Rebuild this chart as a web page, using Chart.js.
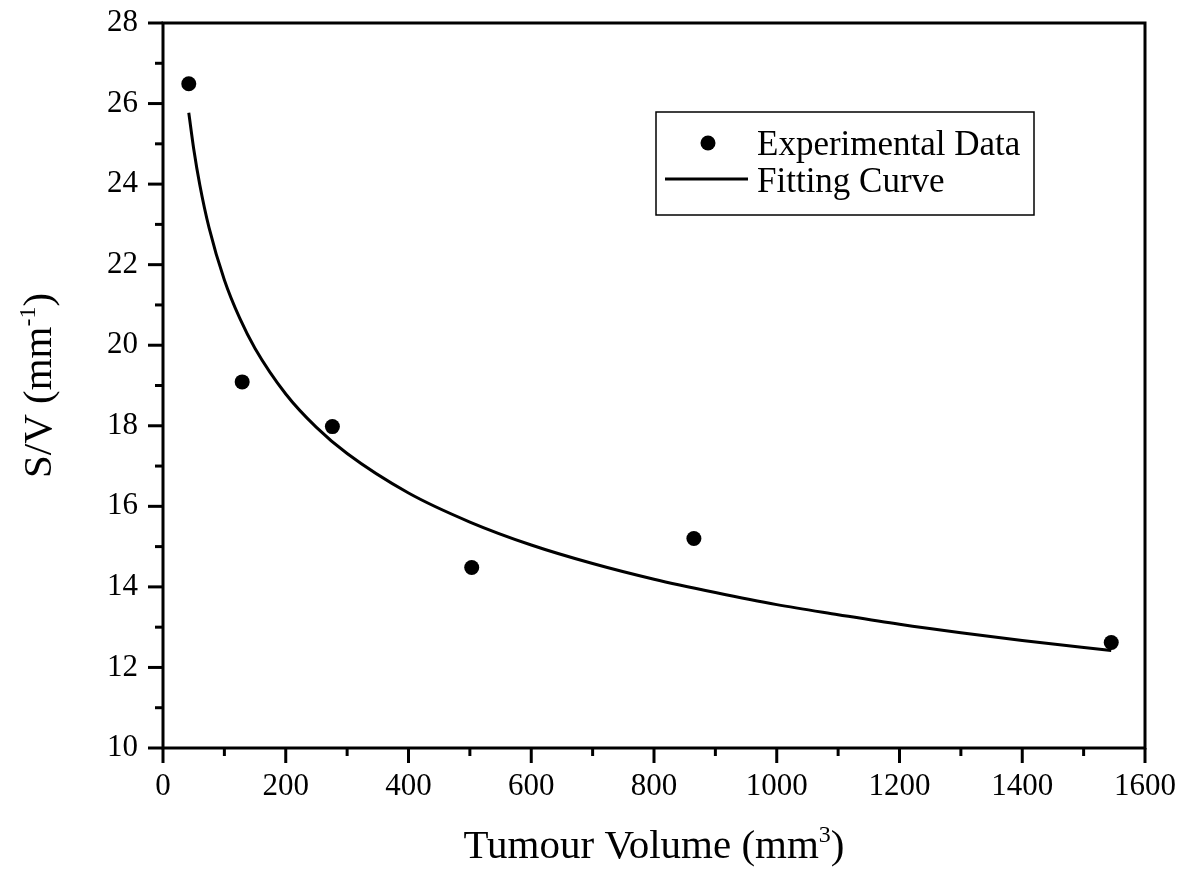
<!DOCTYPE html>
<html>
<head>
<meta charset="utf-8">
<script src="https://cdn.jsdelivr.net/npm/chart.js@4/dist/chart.umd.min.js"></script>
<style>
  html, body { margin: 0; padding: 0; background: #fff; }
  #wrap { width: 1195px; height: 878px; }
</style>
</head>
<body>
<div id="wrap"><canvas id="svChart"></canvas></div>
<script>
// experimental points
const expVolume = [42, 129, 276, 503, 865, 1545];
const expSV = [26.49, 19.09, 17.98, 14.48, 15.20, 12.62];

// fitting curve, values
const fitVolume = [42, 50, 60, 75, 100, 125, 150, 200, 250, 300, 400, 500, 600, 700, 800, 900, 1000, 1100, 1200, 1300, 1400, 1545];
const fitSV = [25.77, 24.88, 23.98, 22.92, 21.62, 20.67, 19.92, 18.79, 17.96, 17.31, 16.33, 15.61, 15.04, 14.58, 14.19, 13.86, 13.56, 13.31, 13.07, 12.86, 12.67, 12.42];

const xTickLabels = [0, 200, 400, 600, 800, 1000, 1200, 1400, 1600];
const yTickLabels = [10, 12, 14, 16, 18, 20, 22, 24, 26, 28];

const legendLabels = ['Experimental Data', 'Fitting Curve'];

const SERIF = '"Liberation Serif", "Times New Roman", serif';

function drawSupText(ctx, x, y, parts) {
  // parts: [text, size, dy]
  let cx = x;
  parts.forEach(p => {
    ctx.font = p[1] + 'px ' + SERIF;
    ctx.fillText(p[0], cx, y + p[2]);
    cx += ctx.measureText(p[0]).width;
  });
}

function partsWidth(ctx, parts) {
  let w = 0;
  parts.forEach(p => {
    ctx.font = p[1] + 'px ' + SERIF;
    w += ctx.measureText(p[0]).width;
  });
  return w;
}

const framePlugin = {
  id: 'framePlugin',
  afterDraw(chart) {
    const ctx = chart.ctx;
    const a = chart.chartArea;
    const xs = chart.scales.x;
    const ys = chart.scales.y;
    ctx.save();
    ctx.strokeStyle = '#000';
    ctx.fillStyle = '#000';

    // frame
    ctx.lineWidth = 3;
    ctx.strokeRect(a.left, a.top, a.right - a.left, a.bottom - a.top);

    // outward ticks, major + minor
    ys.ticks.forEach(t => {
      const py = ys.getPixelForValue(t.value);
      const len = yTickLabels.includes(t.value) ? 15 : 8;
      ctx.beginPath();
      ctx.moveTo(a.left - len, py);
      ctx.lineTo(a.left, py);
      ctx.stroke();
    });
    xs.ticks.forEach(t => {
      const px = xs.getPixelForValue(t.value);
      const len = xTickLabels.includes(t.value) ? 15 : 8;
      ctx.beginPath();
      ctx.moveTo(px, a.bottom);
      ctx.lineTo(px, a.bottom + len);
      ctx.stroke();
    });

    // axis titles
    ctx.textBaseline = 'alphabetic';
    ctx.textAlign = 'left';
    const xParts = [['Tumour Volume (mm', 41, 0], ['3', 24, -16], [')', 41, 0]];
    const xw = partsWidth(ctx, xParts);
    drawSupText(ctx, (a.left + a.right) / 2 - xw / 2, 858, xParts);

    const yParts = [['S/V (mm', 41, 0], ['-1', 24, -16], [')', 41, 0]];
    const yw = partsWidth(ctx, yParts);
    ctx.save();
    ctx.translate(51, (a.top + a.bottom) / 2);
    ctx.rotate(-Math.PI / 2);
    drawSupText(ctx, -yw / 2, 0, yParts);
    ctx.restore();

    // legend box
    ctx.lineWidth = 1.5;
    ctx.strokeRect(656, 112, 378, 103);
    ctx.beginPath();
    ctx.arc(708, 143, 7.5, 0, Math.PI * 2);
    ctx.fill();
    ctx.lineWidth = 3;
    ctx.beginPath();
    ctx.moveTo(665, 179);
    ctx.lineTo(748, 179);
    ctx.stroke();
    ctx.font = '35px ' + SERIF;
    ctx.fillText(legendLabels[0], 757, 155);
    ctx.fillText(legendLabels[1], 757, 192);

    ctx.restore();
  }
};

const ctx = document.getElementById('svChart').getContext('2d');
new Chart(ctx, {
  type: 'scatter',
  data: {
    datasets: [
      {
        label: legendLabels[1],
        data: fitVolume.map((v, i) => ({ x: v, y: fitSV[i] })),
        showLine: true,
        borderColor: '#000',
        borderWidth: 3,
        pointRadius: 0,
        cubicInterpolationMode: 'monotone',
        fill: false
      },
      {
        label: legendLabels[0],
        data: expVolume.map((v, i) => ({ x: v, y: expSV[i] })),
        showLine: false,
        backgroundColor: '#000',
        borderColor: '#000',
        pointRadius: 7.5,
        pointBorderWidth: 0
      }
    ]
  },
  options: {
    responsive: true,
    maintainAspectRatio: false,
    animation: false,
    layout: { padding: { top: 23, right: 50, left: 0, bottom: 0 } },
    plugins: {
      legend: { display: false },
      tooltip: { enabled: false }
    },
    scales: {
      x: {
        type: 'linear',
        min: 0,
        max: 1600,
        afterFit: s => { s.height = 130; s.paddingLeft = 0; s.paddingRight = 0; },
        grid: { drawOnChartArea: false, drawTicks: false },
        border: { display: false },
        ticks: {
          stepSize: 100,
          autoSkip: false,
          maxRotation: 0,
          padding: 20,
          color: '#000',
          font: { family: SERIF, size: 31 },
          callback: v => (xTickLabels.includes(v) ? String(v) : '')
        }
      },
      y: {
        type: 'linear',
        min: 10,
        max: 28,
        afterFit: s => { s.width = 163; s.paddingTop = 0; s.paddingBottom = 0; },
        grid: { drawOnChartArea: false, drawTicks: false },
        border: { display: false },
        ticks: {
          stepSize: 1,
          autoSkip: false,
          padding: 25,
          color: '#000',
          font: { family: SERIF, size: 31 },
          callback: v => (yTickLabels.includes(v) ? String(v) : '')
        }
      }
    }
  },
  plugins: [framePlugin]
});
</script>
</body>
</html>
